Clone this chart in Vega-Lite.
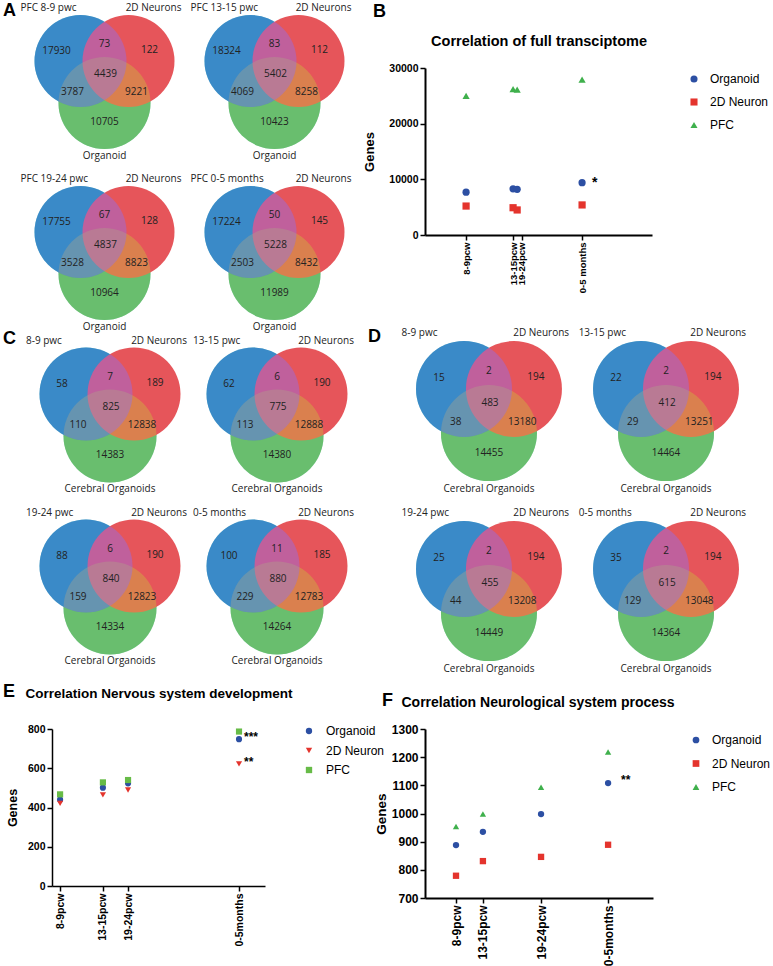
{
  "$schema": "https://vega.github.io/schema/vega-lite/v6.json",
  "padding": {"left": 3, "top": 2, "right": 0, "bottom": 0},
  "background": "white",
  "config": {
    "font": "Liberation Sans",
    "view": {"stroke": null},
    "axis": {"grid": false, "domainColor": "#000", "tickColor": "#000", "labelColor": "#000", "titleColor": "#000", "labelFontWeight": "bold", "titleFontWeight": "bold", "tickSize": 5, "labelPadding": 2, "labelOverlap": false},
    "legend": {"labelColor": "#000"},
    "title": {"color": "#000"}
  },
  "datasets": {
    "venn": [
      {"panel":"A","cell":1,"key":"A","count":17930,"setName":"PFC 8-9 pwc"},
      {"panel":"A","cell":1,"key":"B","count":122,"setName":"2D Neurons"},
      {"panel":"A","cell":1,"key":"C","count":10705,"setName":"Organoid"},
      {"panel":"A","cell":1,"key":"AB","count":73},
      {"panel":"A","cell":1,"key":"AC","count":3787},
      {"panel":"A","cell":1,"key":"BC","count":9221},
      {"panel":"A","cell":1,"key":"ABC","count":4439},
      {"panel":"A","cell":2,"key":"A","count":18324,"setName":"PFC 13-15 pwc"},
      {"panel":"A","cell":2,"key":"B","count":112,"setName":"2D Neurons"},
      {"panel":"A","cell":2,"key":"C","count":10423,"setName":"Organoid"},
      {"panel":"A","cell":2,"key":"AB","count":83},
      {"panel":"A","cell":2,"key":"AC","count":4069},
      {"panel":"A","cell":2,"key":"BC","count":8258},
      {"panel":"A","cell":2,"key":"ABC","count":5402},
      {"panel":"A","cell":3,"key":"A","count":17755,"setName":"PFC 19-24 pwc"},
      {"panel":"A","cell":3,"key":"B","count":128,"setName":"2D Neurons"},
      {"panel":"A","cell":3,"key":"C","count":10964,"setName":"Organoid"},
      {"panel":"A","cell":3,"key":"AB","count":67},
      {"panel":"A","cell":3,"key":"AC","count":3528},
      {"panel":"A","cell":3,"key":"BC","count":8823},
      {"panel":"A","cell":3,"key":"ABC","count":4837},
      {"panel":"A","cell":4,"key":"A","count":17224,"setName":"PFC 0-5 months"},
      {"panel":"A","cell":4,"key":"B","count":145,"setName":"2D Neurons"},
      {"panel":"A","cell":4,"key":"C","count":11989,"setName":"Organoid"},
      {"panel":"A","cell":4,"key":"AB","count":50},
      {"panel":"A","cell":4,"key":"AC","count":2503},
      {"panel":"A","cell":4,"key":"BC","count":8432},
      {"panel":"A","cell":4,"key":"ABC","count":5228},
      {"panel":"C","cell":1,"key":"A","count":58,"setName":"8-9 pwc"},
      {"panel":"C","cell":1,"key":"B","count":189,"setName":"2D Neurons"},
      {"panel":"C","cell":1,"key":"C","count":14383,"setName":"Cerebral Organoids"},
      {"panel":"C","cell":1,"key":"AB","count":7},
      {"panel":"C","cell":1,"key":"AC","count":110},
      {"panel":"C","cell":1,"key":"BC","count":12838},
      {"panel":"C","cell":1,"key":"ABC","count":825},
      {"panel":"C","cell":2,"key":"A","count":62,"setName":"13-15 pwc"},
      {"panel":"C","cell":2,"key":"B","count":190,"setName":"2D Neurons"},
      {"panel":"C","cell":2,"key":"C","count":14380,"setName":"Cerebral Organoids"},
      {"panel":"C","cell":2,"key":"AB","count":6},
      {"panel":"C","cell":2,"key":"AC","count":113},
      {"panel":"C","cell":2,"key":"BC","count":12888},
      {"panel":"C","cell":2,"key":"ABC","count":775},
      {"panel":"C","cell":3,"key":"A","count":88,"setName":"19-24 pwc"},
      {"panel":"C","cell":3,"key":"B","count":190,"setName":"2D Neurons"},
      {"panel":"C","cell":3,"key":"C","count":14334,"setName":"Cerebral Organoids"},
      {"panel":"C","cell":3,"key":"AB","count":6},
      {"panel":"C","cell":3,"key":"AC","count":159},
      {"panel":"C","cell":3,"key":"BC","count":12823},
      {"panel":"C","cell":3,"key":"ABC","count":840},
      {"panel":"C","cell":4,"key":"A","count":100,"setName":"0-5 months"},
      {"panel":"C","cell":4,"key":"B","count":185,"setName":"2D Neurons"},
      {"panel":"C","cell":4,"key":"C","count":14264,"setName":"Cerebral Organoids"},
      {"panel":"C","cell":4,"key":"AB","count":11},
      {"panel":"C","cell":4,"key":"AC","count":229},
      {"panel":"C","cell":4,"key":"BC","count":12783},
      {"panel":"C","cell":4,"key":"ABC","count":880},
      {"panel":"D","cell":1,"key":"A","count":15,"setName":"8-9 pwc"},
      {"panel":"D","cell":1,"key":"B","count":194,"setName":"2D Neurons"},
      {"panel":"D","cell":1,"key":"C","count":14455,"setName":"Cerebral Organoids"},
      {"panel":"D","cell":1,"key":"AB","count":2},
      {"panel":"D","cell":1,"key":"AC","count":38},
      {"panel":"D","cell":1,"key":"BC","count":13180},
      {"panel":"D","cell":1,"key":"ABC","count":483},
      {"panel":"D","cell":2,"key":"A","count":22,"setName":"13-15 pwc"},
      {"panel":"D","cell":2,"key":"B","count":194,"setName":"2D Neurons"},
      {"panel":"D","cell":2,"key":"C","count":14464,"setName":"Cerebral Organoids"},
      {"panel":"D","cell":2,"key":"AB","count":2},
      {"panel":"D","cell":2,"key":"AC","count":29},
      {"panel":"D","cell":2,"key":"BC","count":13251},
      {"panel":"D","cell":2,"key":"ABC","count":412},
      {"panel":"D","cell":3,"key":"A","count":25,"setName":"19-24 pwc"},
      {"panel":"D","cell":3,"key":"B","count":194,"setName":"2D Neurons"},
      {"panel":"D","cell":3,"key":"C","count":14449,"setName":"Cerebral Organoids"},
      {"panel":"D","cell":3,"key":"AB","count":2},
      {"panel":"D","cell":3,"key":"AC","count":44},
      {"panel":"D","cell":3,"key":"BC","count":13208},
      {"panel":"D","cell":3,"key":"ABC","count":455},
      {"panel":"D","cell":4,"key":"A","count":35,"setName":"0-5 months"},
      {"panel":"D","cell":4,"key":"B","count":194,"setName":"2D Neurons"},
      {"panel":"D","cell":4,"key":"C","count":14364,"setName":"Cerebral Organoids"},
      {"panel":"D","cell":4,"key":"AB","count":2},
      {"panel":"D","cell":4,"key":"AC","count":129},
      {"panel":"D","cell":4,"key":"BC","count":13048},
      {"panel":"D","cell":4,"key":"ABC","count":615}
    ],
    "fullTx": [
      {"age":"8-9pcw","pos":18.1,"group":"Organoid","genes":7700},
      {"age":"8-9pcw","pos":18.1,"group":"2D Neuron","genes":5200},
      {"age":"8-9pcw","pos":18.1,"group":"PFC","genes":25000},
      {"age":"13-15pcw","pos":38.8,"group":"Organoid","genes":8300},
      {"age":"13-15pcw","pos":38.8,"group":"2D Neuron","genes":4900},
      {"age":"13-15pcw","pos":38.8,"group":"PFC","genes":26200},
      {"age":"19-24pcw","pos":40.6,"group":"Organoid","genes":8200},
      {"age":"19-24pcw","pos":40.6,"group":"2D Neuron","genes":4500},
      {"age":"19-24pcw","pos":40.6,"group":"PFC","genes":26100},
      {"age":"0-5 months","pos":69.2,"group":"Organoid","genes":9400},
      {"age":"0-5 months","pos":69.2,"group":"2D Neuron","genes":5400},
      {"age":"0-5 months","pos":69.2,"group":"PFC","genes":27900}
    ],
    "fullTxNotes": [
      {"pos":69.2,"genes":9400,"note":"*"}
    ],
    "nervDev": [
      {"age":"8-9pcw","pos":3.8,"group":"Organoid","genes":440},
      {"age":"8-9pcw","pos":3.8,"group":"2D Neuron","genes":421},
      {"age":"8-9pcw","pos":3.8,"group":"PFC","genes":467},
      {"age":"13-15pcw","pos":23.9,"group":"Organoid","genes":501},
      {"age":"13-15pcw","pos":23.9,"group":"2D Neuron","genes":464},
      {"age":"13-15pcw","pos":23.9,"group":"PFC","genes":528},
      {"age":"19-24pcw","pos":35.7,"group":"Organoid","genes":523},
      {"age":"19-24pcw","pos":35.7,"group":"2D Neuron","genes":489},
      {"age":"19-24pcw","pos":35.7,"group":"PFC","genes":540},
      {"age":"0-5months","pos":87.8,"group":"Organoid","genes":748},
      {"age":"0-5months","pos":87.8,"group":"2D Neuron","genes":622},
      {"age":"0-5months","pos":87.8,"group":"PFC","genes":787}
    ],
    "nervDevNotes": [
      {"pos":87.8,"genes":748,"note":"***"},
      {"pos":87.8,"genes":622,"note":"**"}
    ],
    "neuroProc": [
      {"age":"8-9pcw","pos":13.6,"group":"Organoid","genes":888},
      {"age":"8-9pcw","pos":13.6,"group":"2D Neuron","genes":779},
      {"age":"8-9pcw","pos":13.6,"group":"PFC","genes":954},
      {"age":"13-15pcw","pos":25.4,"group":"Organoid","genes":935},
      {"age":"13-15pcw","pos":25.4,"group":"2D Neuron","genes":831},
      {"age":"13-15pcw","pos":25.4,"group":"PFC","genes":998},
      {"age":"19-24pcw","pos":50.9,"group":"Organoid","genes":998},
      {"age":"19-24pcw","pos":50.9,"group":"2D Neuron","genes":846},
      {"age":"19-24pcw","pos":50.9,"group":"PFC","genes":1093},
      {"age":"0-5months","pos":80.3,"group":"Organoid","genes":1108},
      {"age":"0-5months","pos":80.3,"group":"2D Neuron","genes":889},
      {"age":"0-5months","pos":80.3,"group":"PFC","genes":1218}
    ],
    "neuroProcNotes": [
      {"pos":80.3,"genes":1108,"note":"**"}
    ]
  },
  "columns": 2,
  "spacing": {"row": 20, "column": 103},
  "bounds": "flush",
  "resolve": {"scale": {"color": "independent", "shape": "independent"}, "legend": {"color": "independent", "shape": "independent"}},
  "concat": [
    {
      "width": 270,
      "height": 310,
      "data": {"name": "venn"},
      "transform": [
        {"filter": "datum.panel === 'A'"},
        {"calculate": "52.5 + ((datum.cell - 1) % 2) * 170", "as": "bx"},
        {"calculate": "-7 + floor((datum.cell - 1) / 2) * 171", "as": "by"},
        {"calculate": "datum.bx + (datum.key==='A'?-48:datum.key==='AB'?0:datum.key==='B'?45:datum.key==='ABC'?1:datum.key==='AC'?-32:datum.key==='BC'?32:0)", "as": "nx"},
        {"calculate": "datum.by + (datum.key==='A'?-10:datum.key==='AB'?-17:datum.key==='B'?-11:datum.key==='ABC'?13:datum.key==='AC'?31:datum.key==='BC'?31:61)", "as": "ny"},
        {"calculate": "datum.bx + (datum.key==='A'?-24:datum.key==='B'?24:0)", "as": "kx"},
        {"calculate": "datum.by + (datum.key==='C'?42:0)", "as": "ky"},
        {"calculate": "datum.bx + (datum.key==='A'?-84:datum.key==='B'?77:0)", "as": "tx"},
        {"calculate": "datum.by + (datum.key==='C'?95:-53)", "as": "ty"}
      ],
      "title": {"text": "A", "anchor": "start", "frame": "group", "dx": -49, "offset": -17, "fontSize": 18, "fontWeight": "bold"},
      "layer": [
        {"transform": [{"filter": "datum.key === 'C'"}], "mark": {"type": "circle", "size": 8464, "color": "#2fb88d", "opacity": 1},
         "encoding": {"x": {"field": "kx", "type": "quantitative", "scale": {"domain": [0, 270], "nice": false, "zero": false}, "axis": null}, "y": {"field": "ky", "type": "quantitative", "scale": {"domain": [0, 310], "nice": false, "zero": false, "reverse": true}, "axis": null}}},
        {"transform": [{"filter": "datum.key === 'A'"}], "mark": {"type": "circle", "size": 8464, "color": "#079ba3", "opacity": 1},
         "encoding": {"x": {"field": "kx", "type": "quantitative", "scale": {"domain": [0, 270], "nice": false, "zero": false}, "axis": null}, "y": {"field": "ky", "type": "quantitative", "scale": {"domain": [0, 310], "nice": false, "zero": false, "reverse": true}, "axis": null}}},
        {"transform": [{"filter": "datum.key === 'B'"}], "mark": {"type": "circle", "size": 8464, "color": "#e6555a", "opacity": 1},
         "encoding": {"x": {"field": "kx", "type": "quantitative", "scale": {"domain": [0, 270], "nice": false, "zero": false}, "axis": null}, "y": {"field": "ky", "type": "quantitative", "scale": {"domain": [0, 310], "nice": false, "zero": false, "reverse": true}, "axis": null}}},
        {"transform": [{"filter": "datum.key === 'C'"}], "mark": {"type": "circle", "size": 8464, "color": "#c8c83c", "opacity": 0.38},
         "encoding": {"x": {"field": "kx", "type": "quantitative", "scale": {"domain": [0, 270], "nice": false, "zero": false}, "axis": null}, "y": {"field": "ky", "type": "quantitative", "scale": {"domain": [0, 310], "nice": false, "zero": false, "reverse": true}, "axis": null}}},
        {"transform": [{"filter": "datum.key === 'A'"}], "mark": {"type": "circle", "size": 8464, "color": "#8770ff", "opacity": 0.4},
         "encoding": {"x": {"field": "kx", "type": "quantitative", "scale": {"domain": [0, 270], "nice": false, "zero": false}, "axis": null}, "y": {"field": "ky", "type": "quantitative", "scale": {"domain": [0, 310], "nice": false, "zero": false, "reverse": true}, "axis": null}}},
        {"mark": {"type": "text", "font": "Open Sans", "fontSize": 10, "color": "#222"},
         "encoding": {"x": {"field": "nx", "type": "quantitative", "scale": {"domain": [0, 270], "nice": false, "zero": false}, "axis": null}, "y": {"field": "ny", "type": "quantitative", "scale": {"domain": [0, 310], "nice": false, "zero": false, "reverse": true}, "axis": null}, "text": {"field": "count", "type": "quantitative", "format": "d"}}},
        {"transform": [{"filter": "datum.key === 'A'"}], "mark": {"type": "text", "font": "Open Sans", "fontSize": 10, "color": "#222", "align": "left"},
         "encoding": {"x": {"field": "tx", "type": "quantitative", "scale": {"domain": [0, 270], "nice": false, "zero": false}, "axis": null}, "y": {"field": "ty", "type": "quantitative", "scale": {"domain": [0, 310], "nice": false, "zero": false, "reverse": true}, "axis": null}, "text": {"field": "setName", "type": "nominal"}}},
        {"transform": [{"filter": "datum.key === 'B'"}], "mark": {"type": "text", "font": "Open Sans", "fontSize": 10, "color": "#222", "align": "right"},
         "encoding": {"x": {"field": "tx", "type": "quantitative", "scale": {"domain": [0, 270], "nice": false, "zero": false}, "axis": null}, "y": {"field": "ty", "type": "quantitative", "scale": {"domain": [0, 310], "nice": false, "zero": false, "reverse": true}, "axis": null}, "text": {"field": "setName", "type": "nominal"}}},
        {"transform": [{"filter": "datum.key === 'C'"}], "mark": {"type": "text", "font": "Open Sans", "fontSize": 10, "color": "#222", "align": "center"},
         "encoding": {"x": {"field": "tx", "type": "quantitative", "scale": {"domain": [0, 270], "nice": false, "zero": false}, "axis": null}, "y": {"field": "ty", "type": "quantitative", "scale": {"domain": [0, 310], "nice": false, "zero": false, "reverse": true}, "axis": null}, "text": {"field": "setName", "type": "nominal"}}}
      ]
    },
    {
      "width": 227,
      "height": 167,
      "title": {"text": "B", "anchor": "start", "frame": "group", "dx": -52, "offset": 12, "fontSize": 18, "fontWeight": "bold"},
      "resolve": {"axis": {"x": "independent"}},
      "layer": [
        {
          "data": {"name": "fullTx"},
          "mark": {"type": "point", "filled": true, "opacity": 1, "size": 52},
          "encoding": {
            "x": {"field": "pos", "type": "quantitative", "scale": {"domain": [0, 100], "nice": false, "zero": false},
                  "axis": {"values": [18.1, 38.8, 42.7, 69.2], "labelExpr": "datum.value < 30 ? '8-9pcw' : datum.value < 40 ? '13-15pcw' : datum.value < 50 ? '19-24pcw' : '0-5 months'", "labelAngle": -90, "title": null, "labelFontSize": 9.5, "domainWidth": 2, "tickWidth": 1.5, "labelOverlap": false}},
            "y": {"field": "genes", "type": "quantitative", "scale": {"domain": [0, 30000], "nice": false},
                  "axis": {"values": [0, 10000, 20000, 30000], "format": "d", "title": "Genes", "titleFontSize": 13, "titlePadding": 12, "labelFontSize": 10.5, "domainWidth": 2, "tickWidth": 1.5, "labelOverlap": false}},
            "color": {"field": "group", "type": "nominal", "scale": {"domain": ["Organoid", "2D Neuron", "PFC"], "range": ["#2c4fa3", "#e4342d", "#3fb04c"]},
                      "legend": {"orient": "none", "legendX": 263, "legendY": 5, "title": null, "labelFontSize": 12, "labelOffset": 10, "rowPadding": 11, "symbolSize": 50}},
            "shape": {"field": "group", "type": "nominal", "scale": {"domain": ["Organoid", "2D Neuron", "PFC"], "range": ["circle", "square", "triangle-up"]},
                      "legend": {"orient": "none", "legendX": 263, "legendY": 5, "title": null, "labelFontSize": 12, "labelOffset": 10, "rowPadding": 11, "symbolSize": 50}}
          }
        },
        {
          "data": {"name": "fullTxNotes"},
          "mark": {"type": "text", "align": "left", "dx": 10, "dy": 0, "fontSize": 14, "fontWeight": "bold", "color": "#000"},
          "encoding": {
            "x": {"field": "pos", "type": "quantitative",
                  "axis": {"orient": "top", "title": "Correlation of full transciptome", "domain": false, "ticks": false, "labels": false, "titleFontSize": 14.5, "titleX": 113.5, "titleY": -27, "titleAlign": "center", "titleBaseline": "middle", "titleAngle": 0}},
            "y": {"field": "genes", "type": "quantitative",
                  "axis": {"values": [0, 10000, 20000, 30000], "format": "d", "title": "Genes", "titleFontSize": 13, "titlePadding": 12, "labelFontSize": 10.5, "domainWidth": 2, "tickWidth": 1.5, "labelOverlap": false}},
            "text": {"field": "note", "type": "nominal"}
          }
        }
      ]
    },
    {
      "width": 267,
      "height": 311,
      "data": {"name": "venn"},
      "transform": [
        {"filter": "datum.panel === 'C'"},
        {"calculate": "58 + ((datum.cell - 1) % 2) * 167", "as": "bx"},
        {"calculate": "-4 + floor((datum.cell - 1) / 2) * 172", "as": "by"},
        {"calculate": "datum.bx + (datum.key==='A'?-48:datum.key==='AB'?0:datum.key==='B'?45:datum.key==='ABC'?1:datum.key==='AC'?-32:datum.key==='BC'?32:0)", "as": "nx"},
        {"calculate": "datum.by + (datum.key==='A'?-10:datum.key==='AB'?-17:datum.key==='B'?-11:datum.key==='ABC'?13:datum.key==='AC'?31:datum.key==='BC'?31:61)", "as": "ny"},
        {"calculate": "datum.bx + (datum.key==='A'?-24:datum.key==='B'?24:0)", "as": "kx"},
        {"calculate": "datum.by + (datum.key==='C'?42:0)", "as": "ky"},
        {"calculate": "datum.bx + (datum.key==='A'?-84:datum.key==='B'?77:0)", "as": "tx"},
        {"calculate": "datum.by + (datum.key==='C'?95:-53)", "as": "ty"}
      ],
      "title": {"text": "C", "anchor": "start", "frame": "group", "dx": -49, "offset": -12, "fontSize": 18, "fontWeight": "bold"},
      "layer": [
        {"transform": [{"filter": "datum.key === 'C'"}], "mark": {"type": "circle", "size": 8649, "color": "#2fb88d", "opacity": 1},
         "encoding": {"x": {"field": "kx", "type": "quantitative", "scale": {"domain": [0, 267], "nice": false, "zero": false}, "axis": null}, "y": {"field": "ky", "type": "quantitative", "scale": {"domain": [0, 311], "nice": false, "zero": false, "reverse": true}, "axis": null}}},
        {"transform": [{"filter": "datum.key === 'A'"}], "mark": {"type": "circle", "size": 8649, "color": "#079ba3", "opacity": 1},
         "encoding": {"x": {"field": "kx", "type": "quantitative", "scale": {"domain": [0, 267], "nice": false, "zero": false}, "axis": null}, "y": {"field": "ky", "type": "quantitative", "scale": {"domain": [0, 311], "nice": false, "zero": false, "reverse": true}, "axis": null}}},
        {"transform": [{"filter": "datum.key === 'B'"}], "mark": {"type": "circle", "size": 8649, "color": "#e6555a", "opacity": 1},
         "encoding": {"x": {"field": "kx", "type": "quantitative", "scale": {"domain": [0, 267], "nice": false, "zero": false}, "axis": null}, "y": {"field": "ky", "type": "quantitative", "scale": {"domain": [0, 311], "nice": false, "zero": false, "reverse": true}, "axis": null}}},
        {"transform": [{"filter": "datum.key === 'C'"}], "mark": {"type": "circle", "size": 8649, "color": "#c8c83c", "opacity": 0.38},
         "encoding": {"x": {"field": "kx", "type": "quantitative", "scale": {"domain": [0, 267], "nice": false, "zero": false}, "axis": null}, "y": {"field": "ky", "type": "quantitative", "scale": {"domain": [0, 311], "nice": false, "zero": false, "reverse": true}, "axis": null}}},
        {"transform": [{"filter": "datum.key === 'A'"}], "mark": {"type": "circle", "size": 8649, "color": "#8770ff", "opacity": 0.4},
         "encoding": {"x": {"field": "kx", "type": "quantitative", "scale": {"domain": [0, 267], "nice": false, "zero": false}, "axis": null}, "y": {"field": "ky", "type": "quantitative", "scale": {"domain": [0, 311], "nice": false, "zero": false, "reverse": true}, "axis": null}}},
        {"mark": {"type": "text", "font": "Open Sans", "fontSize": 10, "color": "#222"},
         "encoding": {"x": {"field": "nx", "type": "quantitative", "scale": {"domain": [0, 267], "nice": false, "zero": false}, "axis": null}, "y": {"field": "ny", "type": "quantitative", "scale": {"domain": [0, 311], "nice": false, "zero": false, "reverse": true}, "axis": null}, "text": {"field": "count", "type": "quantitative", "format": "d"}}},
        {"transform": [{"filter": "datum.key === 'A'"}], "mark": {"type": "text", "font": "Open Sans", "fontSize": 10, "color": "#222", "align": "left"},
         "encoding": {"x": {"field": "tx", "type": "quantitative", "scale": {"domain": [0, 267], "nice": false, "zero": false}, "axis": null}, "y": {"field": "ty", "type": "quantitative", "scale": {"domain": [0, 311], "nice": false, "zero": false, "reverse": true}, "axis": null}, "text": {"field": "setName", "type": "nominal"}}},
        {"transform": [{"filter": "datum.key === 'B'"}], "mark": {"type": "text", "font": "Open Sans", "fontSize": 10, "color": "#222", "align": "right"},
         "encoding": {"x": {"field": "tx", "type": "quantitative", "scale": {"domain": [0, 267], "nice": false, "zero": false}, "axis": null}, "y": {"field": "ty", "type": "quantitative", "scale": {"domain": [0, 311], "nice": false, "zero": false, "reverse": true}, "axis": null}, "text": {"field": "setName", "type": "nominal"}}},
        {"transform": [{"filter": "datum.key === 'C'"}], "mark": {"type": "text", "font": "Open Sans", "fontSize": 10, "color": "#222", "align": "center"},
         "encoding": {"x": {"field": "tx", "type": "quantitative", "scale": {"domain": [0, 267], "nice": false, "zero": false}, "axis": null}, "y": {"field": "ty", "type": "quantitative", "scale": {"domain": [0, 311], "nice": false, "zero": false, "reverse": true}, "axis": null}, "text": {"field": "setName", "type": "nominal"}}}
      ]
    },
    {
      "width": 277,
      "height": 311,
      "data": {"name": "venn"},
      "transform": [
        {"filter": "datum.panel === 'D'"},
        {"calculate": "61.5 + ((datum.cell - 1) % 2) * 170.2", "as": "bx"},
        {"calculate": "-8.6 + floor((datum.cell - 1) / 2) * 171.4", "as": "by"},
        {"calculate": "datum.bx + (datum.key==='A'?-48:datum.key==='AB'?0:datum.key==='B'?45:datum.key==='ABC'?1:datum.key==='AC'?-32:datum.key==='BC'?32:0)", "as": "nx"},
        {"calculate": "datum.by + (datum.key==='A'?-10:datum.key==='AB'?-17:datum.key==='B'?-11:datum.key==='ABC'?13:datum.key==='AC'?31:datum.key==='BC'?31:61)", "as": "ny"},
        {"calculate": "datum.bx + (datum.key==='A'?-24:datum.key==='B'?24:0)", "as": "kx"},
        {"calculate": "datum.by + (datum.key==='C'?42:0)", "as": "ky"},
        {"calculate": "datum.bx + (datum.key==='A'?-84:datum.key==='B'?77:0)", "as": "tx"},
        {"calculate": "datum.by + (datum.key==='C'?95:-53)", "as": "ty"}
      ],
      "title": {"text": "D", "anchor": "start", "frame": "group", "dx": -57, "offset": -18, "fontSize": 18, "fontWeight": "bold"},
      "layer": [
        {"transform": [{"filter": "datum.key === 'C'"}], "mark": {"type": "circle", "size": 9216, "color": "#2fb88d", "opacity": 1},
         "encoding": {"x": {"field": "kx", "type": "quantitative", "scale": {"domain": [0, 266.3], "nice": false, "zero": false}, "axis": null}, "y": {"field": "ky", "type": "quantitative", "scale": {"domain": [0, 296.2], "nice": false, "zero": false, "reverse": true}, "axis": null}}},
        {"transform": [{"filter": "datum.key === 'A'"}], "mark": {"type": "circle", "size": 9216, "color": "#079ba3", "opacity": 1},
         "encoding": {"x": {"field": "kx", "type": "quantitative", "scale": {"domain": [0, 266.3], "nice": false, "zero": false}, "axis": null}, "y": {"field": "ky", "type": "quantitative", "scale": {"domain": [0, 296.2], "nice": false, "zero": false, "reverse": true}, "axis": null}}},
        {"transform": [{"filter": "datum.key === 'B'"}], "mark": {"type": "circle", "size": 9216, "color": "#e6555a", "opacity": 1},
         "encoding": {"x": {"field": "kx", "type": "quantitative", "scale": {"domain": [0, 266.3], "nice": false, "zero": false}, "axis": null}, "y": {"field": "ky", "type": "quantitative", "scale": {"domain": [0, 296.2], "nice": false, "zero": false, "reverse": true}, "axis": null}}},
        {"transform": [{"filter": "datum.key === 'C'"}], "mark": {"type": "circle", "size": 9216, "color": "#c8c83c", "opacity": 0.38},
         "encoding": {"x": {"field": "kx", "type": "quantitative", "scale": {"domain": [0, 266.3], "nice": false, "zero": false}, "axis": null}, "y": {"field": "ky", "type": "quantitative", "scale": {"domain": [0, 296.2], "nice": false, "zero": false, "reverse": true}, "axis": null}}},
        {"transform": [{"filter": "datum.key === 'A'"}], "mark": {"type": "circle", "size": 9216, "color": "#8770ff", "opacity": 0.4},
         "encoding": {"x": {"field": "kx", "type": "quantitative", "scale": {"domain": [0, 266.3], "nice": false, "zero": false}, "axis": null}, "y": {"field": "ky", "type": "quantitative", "scale": {"domain": [0, 296.2], "nice": false, "zero": false, "reverse": true}, "axis": null}}},
        {"mark": {"type": "text", "font": "Open Sans", "fontSize": 10, "color": "#222"},
         "encoding": {"x": {"field": "nx", "type": "quantitative", "scale": {"domain": [0, 266.3], "nice": false, "zero": false}, "axis": null}, "y": {"field": "ny", "type": "quantitative", "scale": {"domain": [0, 296.2], "nice": false, "zero": false, "reverse": true}, "axis": null}, "text": {"field": "count", "type": "quantitative", "format": "d"}}},
        {"transform": [{"filter": "datum.key === 'A'"}], "mark": {"type": "text", "font": "Open Sans", "fontSize": 10, "color": "#222", "align": "left"},
         "encoding": {"x": {"field": "tx", "type": "quantitative", "scale": {"domain": [0, 266.3], "nice": false, "zero": false}, "axis": null}, "y": {"field": "ty", "type": "quantitative", "scale": {"domain": [0, 296.2], "nice": false, "zero": false, "reverse": true}, "axis": null}, "text": {"field": "setName", "type": "nominal"}}},
        {"transform": [{"filter": "datum.key === 'B'"}], "mark": {"type": "text", "font": "Open Sans", "fontSize": 10, "color": "#222", "align": "right"},
         "encoding": {"x": {"field": "tx", "type": "quantitative", "scale": {"domain": [0, 266.3], "nice": false, "zero": false}, "axis": null}, "y": {"field": "ty", "type": "quantitative", "scale": {"domain": [0, 296.2], "nice": false, "zero": false, "reverse": true}, "axis": null}, "text": {"field": "setName", "type": "nominal"}}},
        {"transform": [{"filter": "datum.key === 'C'"}], "mark": {"type": "text", "font": "Open Sans", "fontSize": 10, "color": "#222", "align": "center"},
         "encoding": {"x": {"field": "tx", "type": "quantitative", "scale": {"domain": [0, 266.3], "nice": false, "zero": false}, "axis": null}, "y": {"field": "ty", "type": "quantitative", "scale": {"domain": [0, 296.2], "nice": false, "zero": false, "reverse": true}, "axis": null}, "text": {"field": "setName", "type": "nominal"}}}
      ]
    },
    {
      "width": 213,
      "height": 157,
      "title": {"text": "E", "anchor": "start", "frame": "group", "dx": -49, "offset": -15, "fontSize": 18, "fontWeight": "bold"},
      "resolve": {"axis": {"x": "independent"}},
      "layer": [
        {
          "data": {"name": "nervDev"},
          "mark": {"type": "point", "filled": true, "opacity": 1, "size": 38},
          "encoding": {
            "x": {"field": "pos", "type": "quantitative", "scale": {"domain": [0, 100], "nice": false, "zero": false},
                  "axis": {"values": [3.8, 23.9, 35.7, 87.8], "labelExpr": "datum.value < 10 ? '8-9pcw' : datum.value < 30 ? '13-15pcw' : datum.value < 50 ? '19-24pcw' : '0-5months'", "labelAngle": -90, "title": null, "labelFontSize": 10.5, "domainWidth": 1.5, "tickWidth": 1.5, "labelOverlap": false}},
            "y": {"field": "genes", "type": "quantitative", "scale": {"domain": [0, 800], "nice": false},
                  "axis": {"values": [0, 200, 400, 600, 800], "title": "Genes", "titleFontSize": 12.5, "titlePadding": 8, "labelFontSize": 10.5, "domainWidth": 1.5, "tickWidth": 1.5, "labelOverlap": false}},
            "color": {"field": "group", "type": "nominal", "scale": {"domain": ["Organoid", "2D Neuron", "PFC"], "range": ["#2c4fa3", "#e4342d", "#67bb47"]},
                      "legend": {"orient": "none", "legendX": 251, "legendY": -4, "title": null, "labelFontSize": 12, "labelOffset": 11, "rowPadding": 7.5, "symbolSize": 40}},
            "shape": {"field": "group", "type": "nominal", "scale": {"domain": ["Organoid", "2D Neuron", "PFC"], "range": ["circle", "triangle-down", "square"]},
                      "legend": {"orient": "none", "legendX": 251, "legendY": -4, "title": null, "labelFontSize": 12, "labelOffset": 11, "rowPadding": 7.5, "symbolSize": 40}}
          }
        },
        {
          "data": {"name": "nervDevNotes"},
          "mark": {"type": "text", "align": "left", "dx": 5, "dy": -2, "fontSize": 12, "fontWeight": "bold", "color": "#000"},
          "encoding": {
            "x": {"field": "pos", "type": "quantitative",
                  "axis": {"orient": "top", "title": "Correlation Nervous system development", "domain": false, "ticks": false, "labels": false, "titleFontSize": 13.5, "titleX": -27, "titleY": -36, "titleAlign": "left", "titleBaseline": "middle", "titleAngle": 0}},
            "y": {"field": "genes", "type": "quantitative",
                  "axis": {"values": [0, 200, 400, 600, 800], "title": "Genes", "titleFontSize": 12.5, "titlePadding": 8, "labelFontSize": 10.5, "domainWidth": 1.5, "tickWidth": 1.5, "labelOverlap": false}},
            "text": {"field": "note", "type": "nominal"}
          }
        }
      ]
    },
    {
      "width": 228,
      "height": 169,
      "title": {"text": "F", "anchor": "start", "frame": "group", "dx": -43, "offset": -15, "fontSize": 18, "fontWeight": "bold"},
      "resolve": {"axis": {"x": "independent"}},
      "layer": [
        {
          "data": {"name": "neuroProc"},
          "mark": {"type": "point", "filled": true, "opacity": 1, "size": 40},
          "encoding": {
            "x": {"field": "pos", "type": "quantitative", "scale": {"domain": [0, 100], "nice": false, "zero": false},
                  "axis": {"values": [13.6, 25.4, 50.9, 80.3], "labelExpr": "datum.value < 20 ? '8-9pcw' : datum.value < 40 ? '13-15pcw' : datum.value < 60 ? '19-24pcw' : '0-5months'", "labelAngle": -90, "title": null, "labelFontSize": 12, "domainWidth": 2, "tickWidth": 1.5, "labelOverlap": false}},
            "y": {"field": "genes", "type": "quantitative", "scale": {"domain": [700, 1300], "nice": false, "zero": false},
                  "axis": {"values": [700, 800, 900, 1000, 1100, 1200, 1300], "format": "d", "title": "Genes", "titleFontSize": 13.5, "titlePadding": 3, "labelFontSize": 12, "domainWidth": 2, "tickWidth": 1.5, "labelOverlap": false}},
            "color": {"field": "group", "type": "nominal", "scale": {"domain": ["Organoid", "2D Neuron", "PFC"], "range": ["#2c4fa3", "#e4342d", "#3fb04c"]},
                      "legend": {"orient": "none", "legendX": 265, "legendY": 5, "title": null, "labelFontSize": 12, "labelOffset": 10, "rowPadding": 11.5, "symbolSize": 45}},
            "shape": {"field": "group", "type": "nominal", "scale": {"domain": ["Organoid", "2D Neuron", "PFC"], "range": ["circle", "square", "triangle-up"]},
                      "legend": {"orient": "none", "legendX": 265, "legendY": 5, "title": null, "labelFontSize": 12, "labelOffset": 10, "rowPadding": 11.5, "symbolSize": 45}}
          }
        },
        {
          "data": {"name": "neuroProcNotes"},
          "mark": {"type": "text", "align": "left", "dx": 13, "dy": -3, "fontSize": 12, "fontWeight": "bold", "color": "#000"},
          "encoding": {
            "x": {"field": "pos", "type": "quantitative",
                  "axis": {"orient": "top", "title": "Correlation Neurological system process", "domain": false, "ticks": false, "labels": false, "titleFontSize": 14, "titleX": -24, "titleY": -27, "titleAlign": "left", "titleBaseline": "middle", "titleAngle": 0}},
            "y": {"field": "genes", "type": "quantitative",
                  "axis": {"values": [700, 800, 900, 1000, 1100, 1200, 1300], "format": "d", "title": "Genes", "titleFontSize": 13.5, "titlePadding": 3, "labelFontSize": 12, "domainWidth": 2, "tickWidth": 1.5, "labelOverlap": false}},
            "text": {"field": "note", "type": "nominal"}
          }
        }
      ]
    }
  ]
}
